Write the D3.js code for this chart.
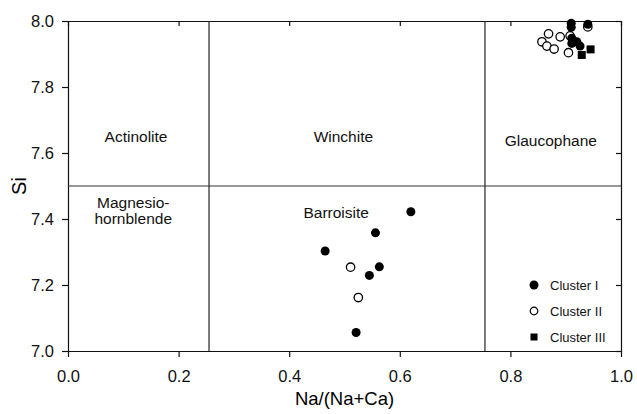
<!DOCTYPE html>
<html>
<head>
<meta charset="utf-8">
<script src="https://d3js.org/d3.v7.min.js"></script>
<style>
  body { margin: 0; background: #fff; }
  svg { font-family: "Liberation Sans", Arial, sans-serif; }
  .tick text { fill: #111; }
</style>
</head>
<body>
<div id="chart"></div>
<script>
let width = 637;
let height = 414;

// tick values
let xTicks = [0, 0.2, 0.4, 0.6, 0.8, 1.0];
let yTicks = [7.0, 7.2, 7.4, 7.6, 7.8, 8.0];

// field boundaries
let xBounds = [0.255, 0.754];
let yBound = 7.5;

// field names: [x, y, label]
let fieldLabels = [
  [0.123, 7.633, "Actinolite"],
  [0.498, 7.633, "Winchite"],
  [0.873, 7.621, "Glaucophane"],
  [0.118, 7.433, "Magnesio-"],
  [0.118, 7.385, "hornblende"],
  [0.485, 7.403, "Barroisite"]
];

// Cluster I (filled circles)
let c1x = [0.620, 0.556, 0.465, 0.563, 0.545, 0.521, 0.910, 0.910, 0.940, 0.911, 0.920, 0.911, 0.926];
let c1y = [7.422, 7.358, 7.303, 7.255, 7.229, 7.056, 7.993, 7.981, 7.990, 7.948, 7.937, 7.932, 7.924];

// Cluster II (open circles)
let c2x = [0.511, 0.525, 0.940, 0.869, 0.890, 0.857, 0.866, 0.879, 0.905, 0.908];
let c2y = [7.254, 7.162, 7.982, 7.961, 7.952, 7.937, 7.924, 7.915, 7.904, 7.955];

// Cluster III (filled squares)
let c3x = [0.945, 0.929];
let c3y = [7.914, 7.897];

let legendNames = ["Cluster I", "Cluster II", "Cluster III"];

let margin = {left: 68, right: 16, top: 21, bottom: 63};

let svg = d3.select("#chart")
  .append("svg")
  .attr("width", width)
  .attr("height", height);

let xScale = d3.scaleLinear()
  .domain([0, 1])
  .range([margin.left, width - margin.right]);
let yScale = d3.scaleLinear()
  .domain([7, 8])
  .range([height - margin.bottom, margin.top]);

// axes
let xAxis = d3.axisBottom(xScale).tickValues(xTicks).tickFormat(d3.format(".1f")).tickSize(6).tickSizeOuter(0).tickPadding(13);
let yAxis = d3.axisLeft(yScale).tickValues(yTicks).tickFormat(d3.format(".1f")).tickSize(6).tickSizeOuter(0).tickPadding(8);
let xTop = d3.axisTop(xScale).tickValues(xTicks).tickFormat("").tickSize(-5).tickSizeOuter(0);
let yRight = d3.axisRight(yScale).tickValues(yTicks).tickFormat("").tickSize(-5).tickSizeOuter(0);

svg.append("g")
  .attr("transform", `translate(0,${yScale(7)})`)
  .call(xAxis);
svg.append("g")
  .attr("transform", `translate(${xScale(0)},0)`)
  .call(yAxis);
svg.append("g")
  .attr("transform", `translate(0,${yScale(8)})`)
  .call(xTop);
svg.append("g")
  .attr("transform", `translate(${xScale(1)},0)`)
  .call(yRight);

svg.selectAll(".tick text")
  .attr("font-size", 16.5)
  .attr("font-family", "Liberation Sans, Arial, sans-serif");
svg.selectAll(".domain, .tick line").attr("stroke", "#111").attr("stroke-width", 1.2);

// axis titles
svg.append("text")
  .attr("x", xScale(0.5))
  .attr("y", 405)
  .attr("text-anchor", "middle")
  .attr("font-size", 18.5)
  .text("Na/(Na+Ca)");
svg.append("text")
  .attr("transform", `translate(26,${yScale(7.5)}) rotate(-90)`)
  .attr("text-anchor", "middle")
  .attr("font-size", 20)
  .text("Si");

// field boundaries
svg.selectAll(".vbound")
  .data(xBounds)
  .enter()
  .append("line")
  .attr("x1", d => xScale(d))
  .attr("x2", d => xScale(d))
  .attr("y1", yScale(8))
  .attr("y2", yScale(7))
  .attr("stroke", "#222")
  .attr("stroke-width", 1.2);
svg.append("line")
  .attr("x1", xScale(0))
  .attr("x2", xScale(1))
  .attr("y1", yScale(yBound))
  .attr("y2", yScale(yBound))
  .attr("stroke", "#333")
  .attr("stroke-width", 1);

// field names
svg.selectAll(".field")
  .data(fieldLabels)
  .enter()
  .append("text")
  .attr("x", d => xScale(d[0]))
  .attr("y", d => yScale(d[1]))
  .attr("text-anchor", "middle")
  .attr("font-size", 15.5)
  .attr("fill", "#111")
  .text(d => d[2]);

// points
let open = c2x.map((x, i) => ({x: x, y: c2y[i]}));
let filled = c1x.map((x, i) => ({x: x, y: c1y[i]}));
let squares = c3x.map((x, i) => ({x: x, y: c3y[i]}));

svg.append("g").selectAll("circle")
  .data(open)
  .enter()
  .append("circle")
  .attr("cx", d => xScale(d.x))
  .attr("cy", d => yScale(d.y))
  .attr("r", 4.2)
  .attr("fill", "#fff")
  .attr("stroke", "#000")
  .attr("stroke-width", 1.3);

svg.append("g").selectAll("circle")
  .data(filled)
  .enter()
  .append("circle")
  .attr("cx", d => xScale(d.x))
  .attr("cy", d => yScale(d.y))
  .attr("r", 4.5)
  .attr("fill", "#000");

svg.append("g").selectAll("rect")
  .data(squares)
  .enter()
  .append("rect")
  .attr("x", d => xScale(d.x) - 4)
  .attr("y", d => yScale(d.y) - 4)
  .attr("width", 8)
  .attr("height", 8)
  .attr("fill", "#000");

// legend
let legend = svg.append("g").attr("transform", "translate(534,285)");
legendNames.forEach(function(name, i) {
  let g = legend.append("g").attr("transform", `translate(0,${i * 26})`);
  if (i == 0) {
    g.append("circle").attr("r", 4.5).attr("fill", "#000");
  } else if (i == 1) {
    g.append("circle").attr("r", 3.8).attr("fill", "#fff").attr("stroke", "#000").attr("stroke-width", 1.2);
  } else {
    g.append("rect").attr("x", -3.5).attr("y", -3.5).attr("width", 7).attr("height", 7).attr("fill", "#000");
  }
  g.append("text")
    .attr("x", 16)
    .attr("y", 4.5)
    .attr("font-size", 13)
    .attr("fill", "#111")
    .text(name);
});
</script>
</body>
</html>
